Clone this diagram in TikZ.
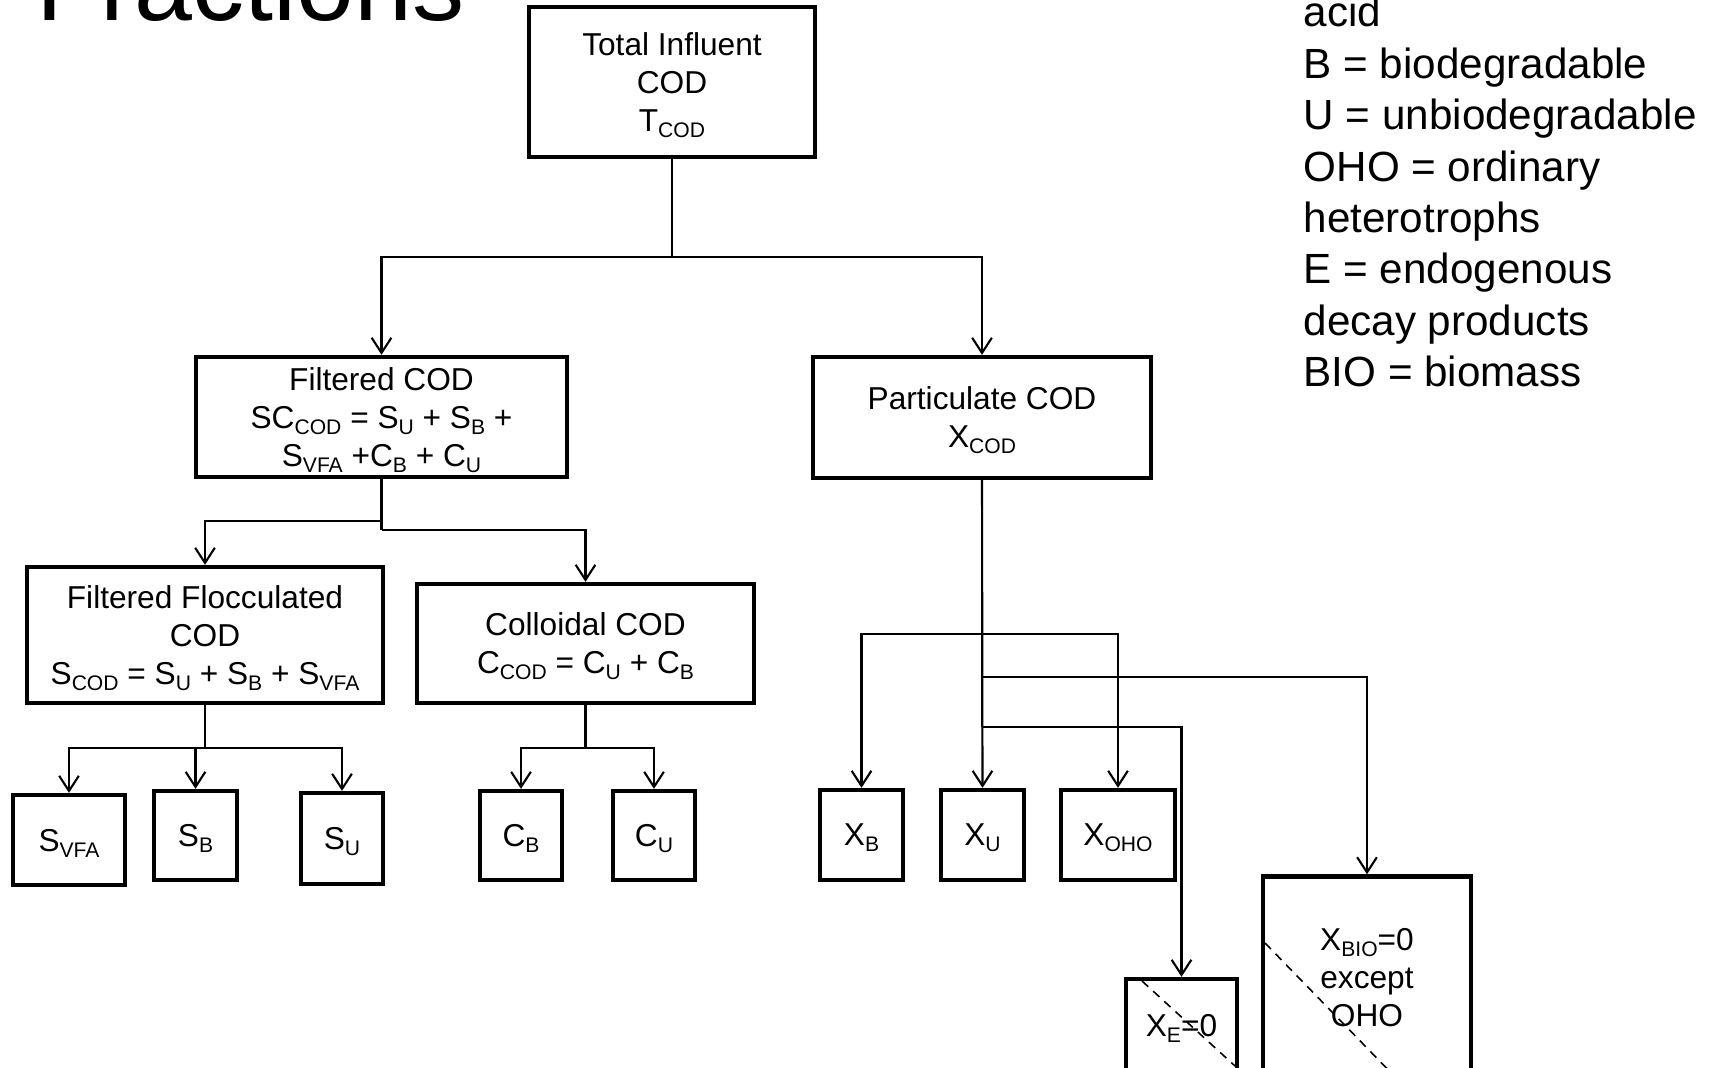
\documentclass[tikz,border=0pt]{standalone}
\usepackage{fontspec}
\setmainfont{Liberation Sans}
\usetikzlibrary{arrows.meta}
\newcommand{\subx}[1]{\raisebox{-1.7pt}{\fontsize{6}{7}\selectfont #1}}

\tikzset{
  box/.style={draw, line width=1.2pt, align=center, inner sep=0pt, text depth=0pt,
    font=\fontsize{9}{10.8}\selectfont},
  wire/.style={line width=0.6pt},
  link/.style={wire, -{Straight Barb[length=4.3pt,width=5.6pt]}},
  strike/.style={line width=0.45pt, dash pattern=on 2.4pt off 1.9pt},
  legend/.style={anchor=base west, inner sep=0pt, font=\fontsize{12}{14.6}\selectfont}
}

\begin{document}
\begin{tikzpicture}[x=0.01cm, y=-0.01cm]
  \useasboundingbox (0,0) rectangle (1715,1068);

  % title (cut off by the page edge)
  \node[anchor=base west, inner sep=0pt, font=\fontsize{29.6}{30}\selectfont] (title) at (36,21) {Fractions};

  % legend
  \foreach \txt [count=\i] in {acid, B = biodegradable, U = unbiodegradable,
      OHO = ordinary, heterotrophs, E = endogenous, decay products, BIO = biomass}
    \node[legend] (leg\i) at (1303,{27+51.4*(\i-1)}) {\txt};

  % boxes
  \node[box, minimum width=2.86cm, minimum height=1.50cm] (tot) at (672,82)
    {Total Influent\\COD\\T\subx{COD}};
  \node[box, minimum width=3.71cm, minimum height=1.20cm] (filt) at (381.5,417)
    {Filtered COD\\SC\subx{COD} = S\subx{U} + S\subx{B} +\\S\subx{VFA} +C\subx{B} + C\subx{U}};
  \node[box, minimum width=3.38cm, minimum height=1.21cm] (part) at (982,417.5)
    {Particulate COD\\X\subx{COD}};
  \node[box, minimum width=3.56cm, minimum height=1.36cm] (floc) at (205,635)
    {Filtered Flocculated\\COD\\S\subx{COD} = S\subx{U} + S\subx{B} + S\subx{VFA}};
  \node[box, minimum width=3.37cm, minimum height=1.19cm] (coll) at (585.5,643.5)
    {Colloidal COD\\C\subx{COD} = C\subx{U} + C\subx{B}};

  \node[box, minimum width=1.12cm, minimum height=0.90cm] (svfa) at (69,840) {S\subx{VFA}};
  \node[box, minimum width=0.83cm, minimum height=0.89cm] (sb) at (195.5,835.5) {S\subx{B}};
  \node[box, minimum width=0.82cm, minimum height=0.91cm] (su) at (342,838.5) {S\subx{U}};
  \node[box, minimum width=0.82cm, minimum height=0.89cm] (cb) at (521,835.5) {C\subx{B}};
  \node[box, minimum width=0.82cm, minimum height=0.89cm] (cu) at (654,835.5) {C\subx{U}};
  \node[box, minimum width=0.83cm, minimum height=0.90cm] (xb) at (861.5,835) {X\subx{B}};
  \node[box, minimum width=0.83cm, minimum height=0.90cm] (xu) at (982.5,835) {X\subx{U}};
  \node[box, minimum width=1.14cm, minimum height=0.90cm] (xoho) at (1118,835) {X\subx{OHO}};
  \node[box, minimum width=1.11cm, minimum height=0.92cm] (xe) at (1181.5,1025) {X\subx{E}=0};
  \node[box, minimum width=2.08cm, minimum height=2.01cm] (xbio) at (1367,977)
    {X\subx{BIO}=0\\except\\OHO};

  % branch points
  \coordinate (tsplit) at (672,257);
  \coordinate (fsplitL) at (381.5,521);
  \coordinate (fsplitR) at (381.5,530);
  \coordinate (flsplit) at (205,748);
  \coordinate (csplit) at (585.5,748);
  \coordinate (pA) at (982,634);
  \coordinate (pB) at (982,677);
  \coordinate (pC) at (982,727);

  % connectors
  \draw[wire] (tot.south) -- (tsplit);
  \draw[link] (tsplit) -| (filt.north);
  \draw[link] (tsplit) -| (part.north);

  \draw[wire] (filt.south) -- (fsplitR);
  \draw[link] (fsplitL) -| (floc.north);
  \draw[link] (fsplitR) -| (coll.north);

  \draw[wire] (floc.south) -- (flsplit);
  \draw[link] (flsplit) -| (svfa.north);
  \draw[link] (flsplit) -| (sb.north);
  \draw[link] (flsplit) -| (su.north);

  \draw[wire] (coll.south) -- (csplit);
  \draw[link] (csplit) -| (cb.north);
  \draw[link] (csplit) -| (cu.north);

  \draw[wire] (part.south) -- (pC);
  \draw[link] (pA) -| (xb.north);
  \draw[link] (pA) -| (xoho.north);
  \draw[link] (part.south) -- (xu.north);
  \draw[link] (pB) -| (xbio.north);
  \draw[link] (pC) -| (xe.north);

  % struck-out fractions
  \draw[strike] (1142,981) -- (1235,1066);
  \draw[strike] (1265,943) -- (1400,1082);
\end{tikzpicture}
\end{document}
